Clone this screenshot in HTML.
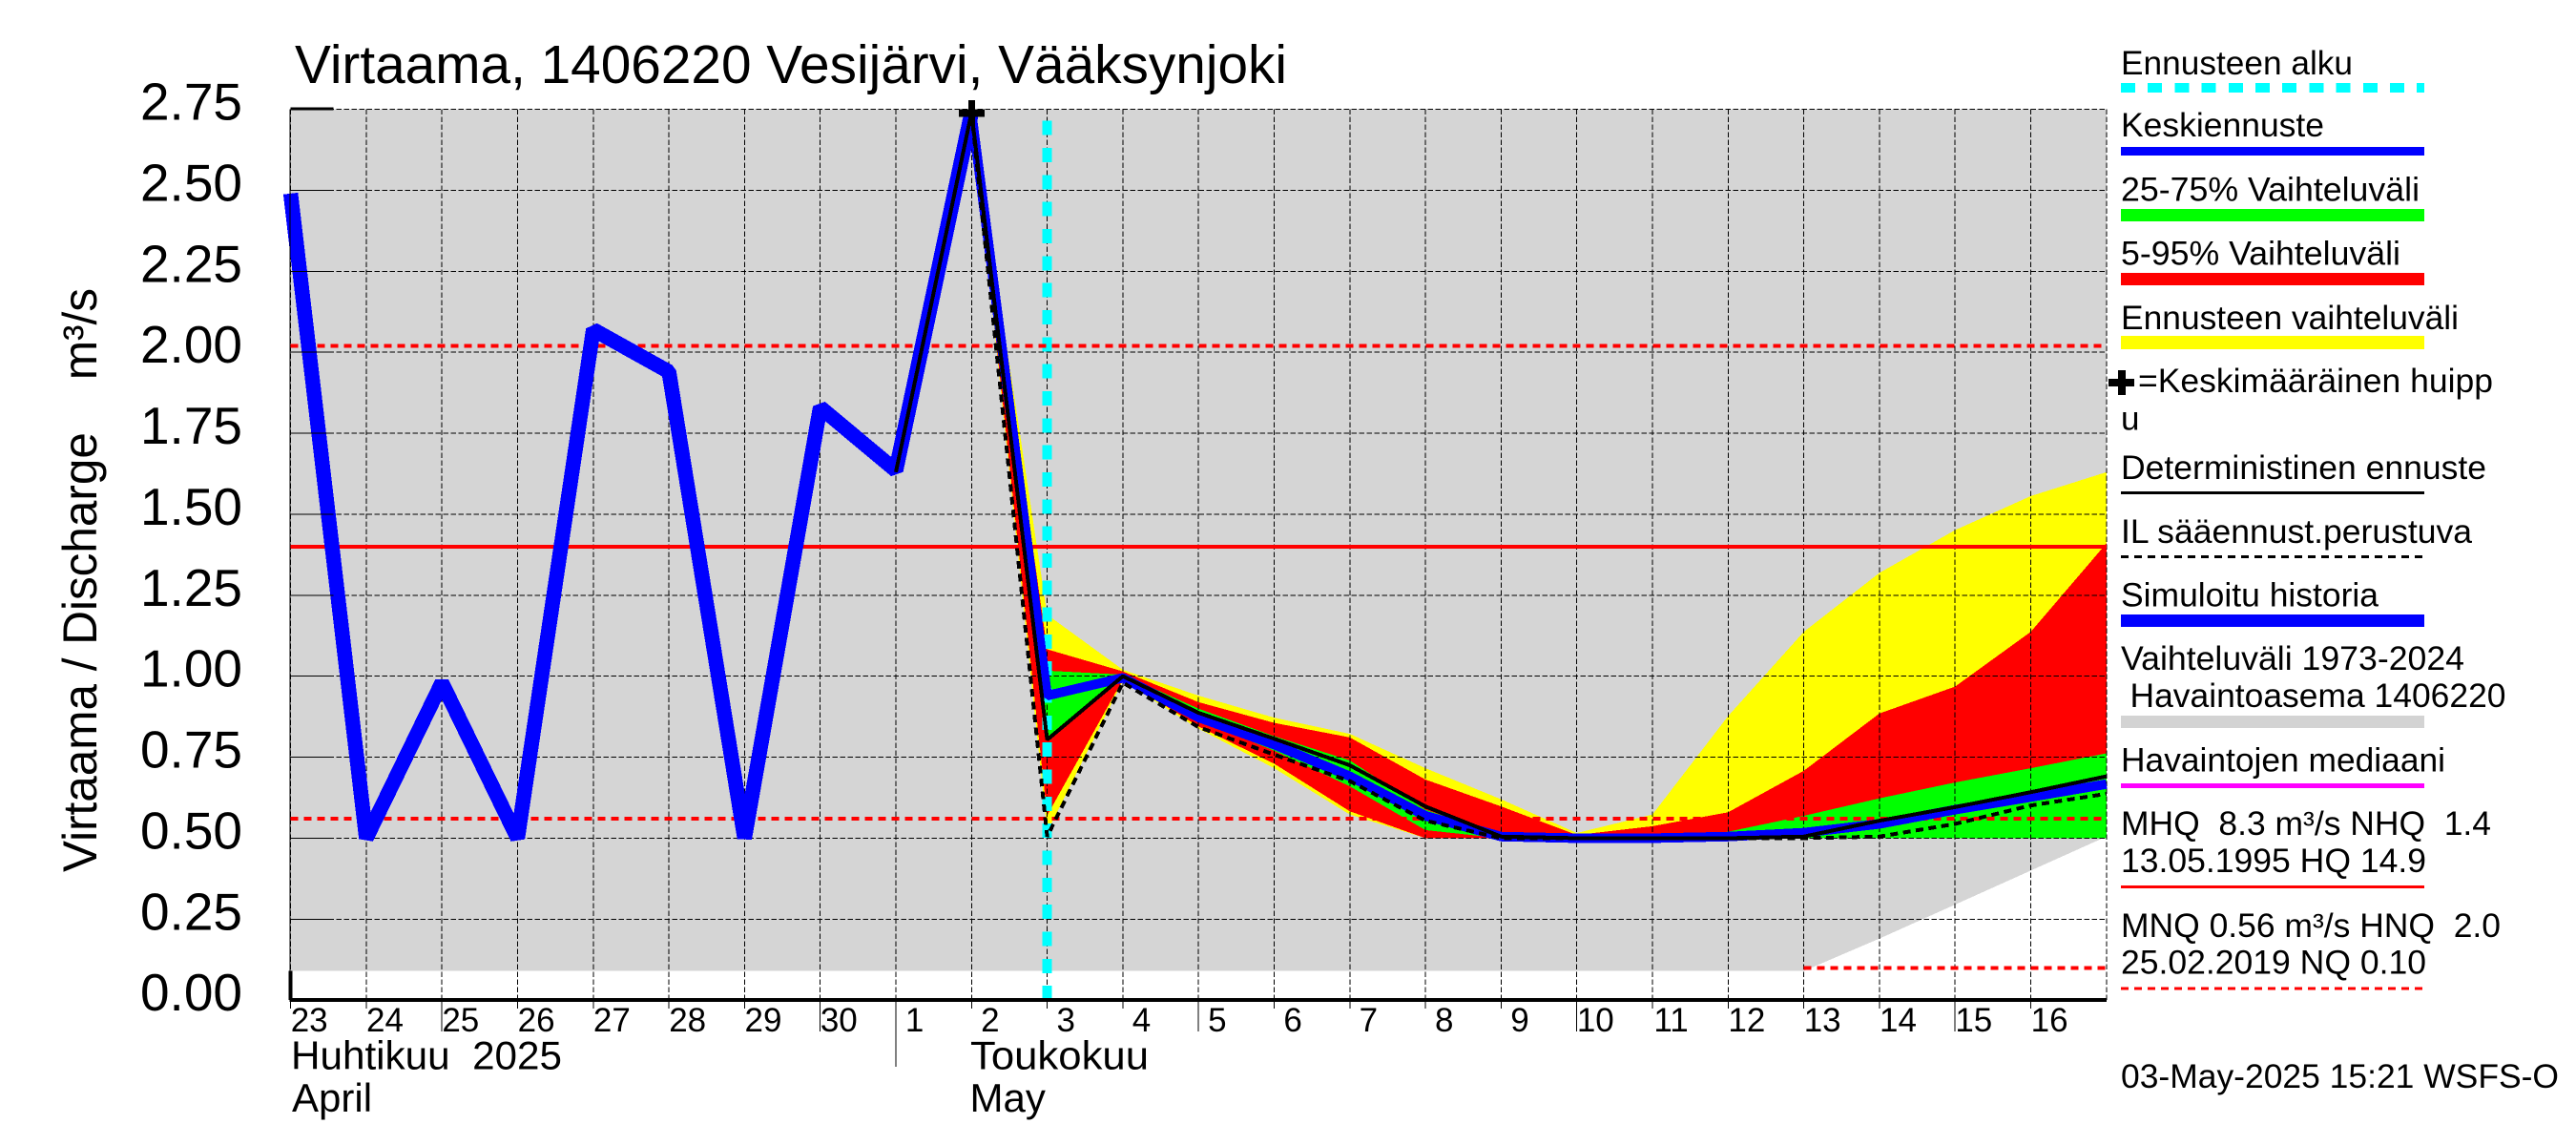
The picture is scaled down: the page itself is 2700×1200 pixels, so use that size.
<!DOCTYPE html>
<html lang="fi">
<head>
<meta charset="utf-8">
<title>Virtaama, 1406220 Vesijärvi, Vääksynjoki</title>
<style>
html,body{margin:0;padding:0;background:#fff;}
svg{display:block;}
text{font-family:"Liberation Sans",sans-serif;fill:#000;}
.lg{font-size:35px;}
</style>
</head>
<body>
<svg id="chart" xmlns="http://www.w3.org/2000/svg" width="2700" height="1200" viewBox="0 0 2700 1200" shape-rendering="crispEdges">
  <rect x="0" y="0" width="2700" height="1200" fill="#fff"/>
  <text x="309" y="87" font-size="56.5" textLength="1040" lengthAdjust="spacingAndGlyphs">Virtaama, 1406220 Vesijärvi, Vääksynjoki</text>
  <text transform="translate(101,914) rotate(-90)" font-size="50" textLength="612" lengthAdjust="spacingAndGlyphs">Virtaama / Discharge&#160;&#160;&#160;&#160;m³/s</text>

  <g id="layer-bands"></g>
  <g id="layer-grid"></g>
  <g id="layer-forecast-start"></g>
  <g id="layer-reference"></g>
  <g id="layer-series"></g>
  <g id="layer-axes"></g>

  <text x="305" y="1120.5" font-size="42" textLength="284" lengthAdjust="spacingAndGlyphs">Huhtikuu&#160;&#160;2025</text>
  <text x="306" y="1165" font-size="42">April</text>
  <text x="1017" y="1120.5" font-size="42" textLength="187" lengthAdjust="spacingAndGlyphs">Toukokuu</text>
  <text x="1016.5" y="1165" font-size="42">May</text>

  <g>
    <text class="lg" x="2223" y="78" textLength="243" lengthAdjust="spacingAndGlyphs">Ennusteen alku</text>
    <line x1="2223" x2="2541" y1="92" y2="92" stroke="#00ffff" stroke-width="10" stroke-dasharray="15 13.2"/>
    <text class="lg" x="2223" y="143" textLength="213" lengthAdjust="spacingAndGlyphs">Keskiennuste</text>
    <line x1="2223" x2="2541" y1="158.5" y2="158.5" stroke="#0000ff" stroke-width="9"/>
    <text class="lg" x="2223" y="210.5" textLength="313" lengthAdjust="spacingAndGlyphs">25-75% Vaihteluväli</text>
    <line x1="2223" x2="2541" y1="225.5" y2="225.5" stroke="#00ff00" stroke-width="13"/>
    <text class="lg" x="2223" y="277.5" textLength="293" lengthAdjust="spacingAndGlyphs">5-95% Vaihteluväli</text>
    <line x1="2223" x2="2541" y1="292.5" y2="292.5" stroke="#ff0000" stroke-width="13"/>
    <text class="lg" x="2223" y="345" textLength="354" lengthAdjust="spacingAndGlyphs">Ennusteen vaihteluväli</text>
    <line x1="2223" x2="2541" y1="359" y2="359" stroke="#ffff00" stroke-width="14"/>
    <path d="M2210 397h10v-9h8v9h9v8h-9v9h-8v-9h-10z" fill="#000"/>
    <text class="lg" x="2241" y="411" textLength="372" lengthAdjust="spacingAndGlyphs">=Keskimääräinen huipp</text>
    <text class="lg" x="2223" y="450.5">u</text>
    <text class="lg" x="2223" y="502" textLength="383" lengthAdjust="spacingAndGlyphs">Deterministinen ennuste</text>
    <line x1="2223" x2="2541" y1="516.5" y2="516.5" stroke="#000" stroke-width="3"/>
    <text class="lg" x="2223" y="569" textLength="368" lengthAdjust="spacingAndGlyphs">IL sääennust.perustuva</text>
    <line x1="2223" x2="2541" y1="583.5" y2="583.5" stroke="#000" stroke-width="3" stroke-dasharray="8 6"/>
    <text class="lg" x="2223" y="635.5" textLength="270" lengthAdjust="spacingAndGlyphs">Simuloitu historia</text>
    <line x1="2223" x2="2541" y1="650.5" y2="650.5" stroke="#0000ff" stroke-width="13"/>
    <text class="lg" x="2223" y="702" textLength="360" lengthAdjust="spacingAndGlyphs">Vaihteluväli 1973-2024</text>
    <text class="lg" x="2232.5" y="741" textLength="394" lengthAdjust="spacingAndGlyphs">Havaintoasema 1406220</text>
    <line x1="2223" x2="2541" y1="756.5" y2="756.5" stroke="#d3d3d3" stroke-width="13"/>
    <text class="lg" x="2223" y="808.5" textLength="340" lengthAdjust="spacingAndGlyphs">Havaintojen mediaani</text>
    <line x1="2223" x2="2541" y1="823.5" y2="823.5" stroke="#ff00ff" stroke-width="5"/>
    <text class="lg" x="2223" y="875" textLength="388" lengthAdjust="spacingAndGlyphs">MHQ&#160;&#160;8.3 m³/s NHQ&#160;&#160;1.4</text>
    <text class="lg" x="2223" y="914" textLength="320" lengthAdjust="spacingAndGlyphs">13.05.1995 HQ 14.9</text>
    <line x1="2223" x2="2541" y1="929.5" y2="929.5" stroke="#ff0000" stroke-width="3"/>
    <text class="lg" x="2223" y="982" textLength="398" lengthAdjust="spacingAndGlyphs">MNQ 0.56 m³/s HNQ&#160;&#160;2.0</text>
    <text class="lg" x="2223" y="1020.5" textLength="320" lengthAdjust="spacingAndGlyphs">25.02.2019 NQ 0.10</text>
    <line x1="2223" x2="2541" y1="1036" y2="1036" stroke="#ff0000" stroke-width="3" stroke-dasharray="8 6"/>
  </g>
  <text class="lg" x="2223" y="1140" textLength="459" lengthAdjust="spacingAndGlyphs">03-May-2025 15:21 WSFS-O</text>
</svg>

<script>
// ---- Chart data (day index 0 = 23 April) ----
const dayLabels = ['23','24','25','26','27','28','29','30','1','2','3','4','5','6','7','8','9','10','11','12','13','14','15','16'];
const yTickValues = [0, 0.25, 0.5, 0.75, 1, 1.25, 1.5, 1.75, 2, 2.25, 2.5, 2.75];
const longTickDays = [2, 7, 12, 17, 22];
const monthBoundaryDay = 8;

const historyValues = [2.49, 0.5, 0.98, 0.5, 2.07, 1.94, 0.5, 1.83, 1.635, 2.74];

const rangeTop = [2.75,2.75,2.75,2.75,2.75,2.75,2.75,2.75,2.75,2.75,2.75,2.75,2.75,2.75,2.75,2.75,2.75,2.75,2.75,2.75,2.75,2.75,2.75,2.75,2.75];
const rangeBottom = [0.09,0.09,0.09,0.09,0.09,0.09,0.09,0.09,0.09,0.09,0.09,0.09,0.09,0.09,0.09,0.09,0.09,0.09,0.09,0.09,0.09,0.19,0.295,0.40,0.505];

// forecast series start on day index 9 (2 May)
const forecastFirstDay = 9;
const forecastTop = [2.74,1.19,1.02,0.94,0.872,0.822,0.716,0.62,0.516,0.573,0.877,1.137,1.319,1.451,1.556,1.63];
const forecastBottom = [2.74,0.52,0.985,0.838,0.716,0.573,0.5,0.5,0.5,0.5,0.5,0.5,0.5,0.5,0.5,0.5];
const p95Values = [2.74,1.083,1.015,0.92,0.856,0.811,0.681,0.598,0.51,0.537,0.58,0.708,0.885,0.968,1.137,1.41];
const p5Values = [2.74,0.57,0.99,0.845,0.73,0.583,0.5,0.5,0.5,0.5,0.5,0.5,0.5,0.5,0.5,0.5];
const p75Values = [2.74,1.017,1.005,0.9,0.815,0.74,0.588,0.51,0.5,0.5,0.52,0.569,0.623,0.672,0.716,0.762];
const p25Values = [2.74,0.8,0.995,0.865,0.77,0.66,0.525,0.5,0.5,0.5,0.5,0.5,0.5,0.5,0.5,0.5];
const meanForecast = [2.74,0.94,0.995,0.873,0.789,0.691,0.569,0.505,0.5,0.5,0.505,0.517,0.544,0.588,0.627,0.667];
const ilForecast = [2.74,0.505,0.98,0.843,0.758,0.676,0.554,0.5,0.5,0.5,0.5,0.5,0.505,0.544,0.601,0.637];

// deterministic forecast starts one day earlier, day index 8
const deterministicFirstDay = 8;
const deterministicForecast = [1.63,2.74,0.804,1.0,0.887,0.807,0.725,0.598,0.505,0.5,0.5,0.5,0.505,0.554,0.596,0.642,0.691];

const forecastStartDay = 10;
const meanPeakDay = 9;
const meanPeakValue = 2.738;
const nhqValue = 1.40;
const hnqValue = 2.02;
const mnqValue = 0.56;
const nqValue = 0.10;
const nqFirstDay = 20;
const dayCount = 24;

// ---- Axis functions ----
const SVG_NS = 'http://www.w3.org/2000/svg';
function xScale(day) { return 304.6 + 79.3 * day; }
function yScale(v) { return 1048.2 - 339.5 * v; }

function make(tag, parentId, attrs) {
  const node = document.createElementNS(SVG_NS, tag);
  for (const key in attrs) node.setAttribute(key, attrs[key]);
  document.getElementById(parentId).appendChild(node);
  return node;
}
function linePoints(values, firstDay) {
  return values.map(function (v, i) { return xScale(firstDay + i) + ',' + yScale(v); }).join(' ');
}
function areaPoints(top, bottom, firstDay) {
  const upper = top.map(function (v, i) { return xScale(firstDay + i) + ',' + yScale(v); });
  const lower = bottom.map(function (v, i) { return xScale(firstDay + i) + ',' + yScale(v); }).reverse();
  return upper.concat(lower).join(' ');
}

let el;

// ---- Filled bands ----
el = make('polygon', 'layer-bands', { points: areaPoints(rangeTop, rangeBottom, 0), fill: '#d5d5d5' });



el = make('polygon', 'layer-bands', { points: areaPoints(forecastTop, forecastBottom, forecastFirstDay), fill: '#ffff00' });



el = make('polygon', 'layer-bands', { points: areaPoints(p95Values, p5Values, forecastFirstDay), fill: '#ff0000' });



el = make('polygon', 'layer-bands', { points: areaPoints(p75Values, p25Values, forecastFirstDay), fill: '#00ff00' });



// ---- Grid ----
yTickValues.forEach(function (v) {
  if (v === 0) return;
  const line = make('line', 'layer-grid', { x1: xScale(0), x2: xScale(dayCount), y1: yScale(v), y2: yScale(v), stroke: '#000', 'stroke-width': 1, 'stroke-dasharray': '5.5 2.5' });
  
  
});
for (let d = 0; d <= dayCount; d++) {
  const line = make('line', 'layer-grid', { x1: xScale(d), x2: xScale(d), y1: yScale(2.75), y2: yScale(0), stroke: '#000', 'stroke-width': 1, 'stroke-dasharray': '5.5 2.5' });
  
  
}

// ---- Forecast start marker ----
el = make('line', 'layer-forecast-start', { x1: xScale(forecastStartDay), x2: xScale(forecastStartDay), y1: yScale(0), y2: yScale(2.75), stroke: '#00ffff', 'stroke-width': 10, 'stroke-dasharray': '15 13.33' });



// ---- Reference lines ----
el = make('line', 'layer-reference', { x1: xScale(0), x2: xScale(dayCount), y1: yScale(nhqValue), y2: yScale(nhqValue), stroke: '#ff0000', 'stroke-width': 4 });



el = make('line', 'layer-reference', { x1: xScale(0), x2: xScale(dayCount), y1: yScale(hnqValue), y2: yScale(hnqValue), stroke: '#ff0000', 'stroke-width': 4, 'stroke-dasharray': '8 6' });



el = make('line', 'layer-reference', { x1: xScale(0), x2: xScale(dayCount), y1: yScale(mnqValue), y2: yScale(mnqValue), stroke: '#ff0000', 'stroke-width': 4, 'stroke-dasharray': '8 6' });



el = make('line', 'layer-reference', { x1: xScale(nqFirstDay), x2: xScale(dayCount), y1: yScale(nqValue), y2: yScale(nqValue), stroke: '#ff0000', 'stroke-width': 4, 'stroke-dasharray': '8 6' });



// ---- Series ----
el = make('polyline', 'layer-series', { points: linePoints(historyValues, 0), fill: 'none', stroke: '#0000ff', 'stroke-width': 15.5, 'stroke-linejoin': 'bevel' });



el = make('polyline', 'layer-series', { points: linePoints(meanForecast, forecastFirstDay), fill: 'none', stroke: '#0000ff', 'stroke-width': 10, 'stroke-linejoin': 'bevel' });



el = make('polyline', 'layer-series', { points: linePoints(deterministicForecast, deterministicFirstDay), fill: 'none', stroke: '#000', 'stroke-width': 4, 'stroke-linejoin': 'bevel' });



el = make('polyline', 'layer-series', { points: linePoints(ilForecast, forecastFirstDay), fill: 'none', stroke: '#000', 'stroke-width': 4, 'stroke-dasharray': '8 5.5', 'stroke-linejoin': 'bevel' });



const peakX = xScale(meanPeakDay);
const peakY = yScale(meanPeakValue);
el = make('path', 'layer-series', { d: 'M' + (peakX - 13.5) + ' ' + (peakY - 4) + 'h10v-9.5h7v9.5h10v8h-10v9.5h-7v-9.5h-10z', fill: '#000' });



// ---- Axes ----
el = make('line', 'layer-axes', { x1: xScale(0) - 1, x2: xScale(dayCount), y1: yScale(0), y2: yScale(0), stroke: '#000', 'stroke-width': 4 });



el = make('line', 'layer-axes', { x1: xScale(0), x2: xScale(0), y1: yScale(rangeBottom[0]), y2: yScale(0), stroke: '#000', 'stroke-width': 4 });



el = make('line', 'layer-axes', { x1: xScale(0) - 0.6, x2: xScale(0) - 0.6, y1: yScale(2.75), y2: yScale(rangeBottom[0]), stroke: '#000', 'stroke-width': 1 });



yTickValues.forEach(function (v) {
  if (v !== 0) {
    const tick = make('line', 'layer-axes', { x1: xScale(0), x2: xScale(0) + 45, y1: v === 2.75 ? yScale(v) - 0.5 : yScale(v), y2: v === 2.75 ? yScale(v) - 0.5 : yScale(v), stroke: '#000', 'stroke-width': v === 2.75 ? 3 : 1 });
    
    
  }
  const label = make('text', 'layer-axes', { x: 254, y: yScale(v) + 11, 'font-size': 55, 'text-anchor': 'end' });
  label.textContent = v.toFixed(2);
  
  
});

for (let d = 0; d < dayCount; d++) {
  const bottom = d === monthBoundaryDay ? 1118 : (longTickDays.indexOf(d) >= 0 ? 1081 : 1057);
  const tick = make('line', 'layer-axes', { x1: xScale(d), x2: xScale(d), y1: yScale(0), y2: bottom, stroke: '#000', 'stroke-width': 1 });
  
  
}

dayLabels.forEach(function (text, d) {
  const label = make('text', 'layer-axes', { x: xScale(d) + 19.6, y: 1081, 'font-size': 35, 'text-anchor': 'middle' });
  label.textContent = text;
  
  
});
</script>
</body>
</html>
